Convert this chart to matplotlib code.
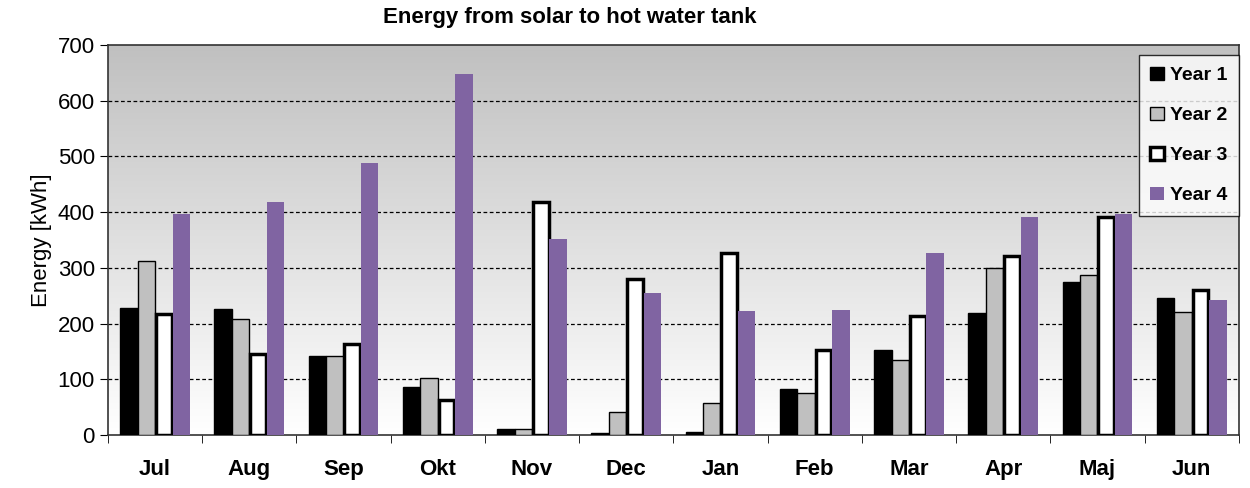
import matplotlib
matplotlib.use("Agg")
import matplotlib.pyplot as plt
from matplotlib.colors import LinearSegmentedColormap
import numpy as np

plt.rcParams['font.family'] = ['Liberation Sans', 'DejaVu Sans']

months = ['Jul', 'Aug', 'Sep', 'Okt', 'Nov', 'Dec', 'Jan', 'Feb', 'Mar', 'Apr', 'Maj', 'Jun']
year1 = [228, 226, 142, 87, 10, 3, 6, 83, 152, 219, 274, 246]
year2 = [312, 208, 142, 102, 10, 42, 58, 76, 135, 300, 287, 220]
year3 = [217, 145, 164, 62, 418, 280, 327, 153, 214, 322, 391, 261]
year4 = [397, 418, 488, 648, 352, 255, 222, 225, 327, 392, 397, 242]

fig = plt.figure(figsize=(12.5, 4.88), dpi=100)
ax = fig.add_axes([0.0864, 0.1086, 0.9046, 0.7992])

# grey-to-white background gradient
bg = LinearSegmentedColormap.from_list('bg', ['#ffffff', '#c0c0c0'])
grad = np.linspace(1.0, 0.0, 256).reshape(-1, 1)
ax.imshow(grad, extent=[0, 1, 0, 1], transform=ax.transAxes, cmap=bg,
          vmin=0, vmax=1, aspect='auto', zorder=0)

x = np.arange(len(months))
w = 0.185
ax.bar(x - 1.5 * w, year1, w, color='black', edgecolor='black', linewidth=1, label='Year 1', zorder=3)
ax.bar(x - 0.5 * w, year2, w, color='#c0c0c0', edgecolor='black', linewidth=1, label='Year 2', zorder=3)
ax.bar(x + 0.5 * w, year3, w * 0.9, color='white', edgecolor='black', linewidth=2.5, label='Year 3', zorder=3)
ax.bar(x + 1.5 * w, year4, w, color='#8064a2', edgecolor='none', label='Year 4', zorder=3)

ax.set_xlim(-0.5, len(months) - 0.5)
ax.set_ylim(0, 700)
ax.set_yticks(range(0, 701, 100))
ax.set_xticks(x)
ax.set_xticklabels(months, fontsize=16, fontweight='bold')
ax.set_xticks(np.arange(-0.5, len(months), 1), minor=True)
ax.tick_params(axis='x', which='major', length=0, pad=17)
ax.tick_params(axis='x', which='minor', length=6, direction='out')
ax.tick_params(axis='y', labelsize=16, length=6, direction='out')

for yv in range(100, 700, 100):
    ax.axhline(yv, color='black', linestyle=(0, (3, 2)), linewidth=0.9, zorder=1)

ax.set_ylabel('Energy [kWh]', fontsize=16, labelpad=4)
fig.text(0.456, 1 - 18 / 488, 'Energy from solar to hot water tank', fontsize=16,
         fontweight='bold', ha='center', va='center')

for s in ax.spines.values():
    s.set_color('#333333')
    s.set_linewidth(1.2)

leg = ax.legend(loc='upper right', bbox_to_anchor=(1.0, 1 - 10 / 390),
                prop={'weight': 'bold', 'size': 14}, frameon=True, fancybox=False,
                edgecolor='black', handlelength=0.7, handleheight=0.7,
                handletextpad=0.3, labelspacing=1.15, borderpad=0.6,
                borderaxespad=0)
leg.get_frame().set_linewidth(1.0)

fig.savefig('out.png', dpi=100)
